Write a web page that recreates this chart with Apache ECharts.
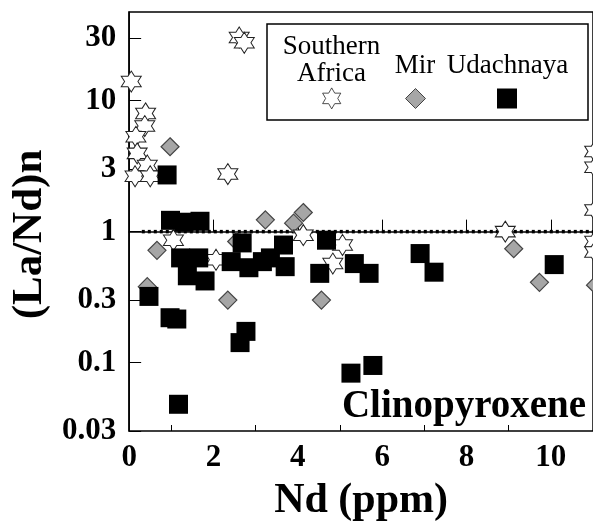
<!DOCTYPE html>
<html>
<head>
<meta charset="utf-8">
<script src="https://cdn.jsdelivr.net/npm/echarts@6/dist/echarts.min.js"></script>
<style>
html,body{margin:0;padding:0;background:#fff;}
#chart{width:593px;height:527px;}
</style>
</head>
<body>
<div id="chart"></div>
<script>
// ---- data (Nd ppm, (La/Nd)n) ----
const southernAfricaNd = [0.05, 0.39, 0.37, 0.16, 0.19, 0.43, 0.14, 0.50, 2.34, 2.61, 2.73, 1.05, 2.06, 4.13, 5.06, 4.83, 8.92, 11.04, 11.04, 11.04, 11.04, 11.04];
const southernAfricaLaNd = [14, 8.0, 6.4, 5.3, 3.96, 3.2, 2.65, 2.65, 2.75, 30.4, 27.7, 0.86, 0.61, 0.94, 0.79, 0.57, 1.0, 4.1, 3.1, 1.46, 0.84, 0.70];

const mirNd = [0.97, 3.23, 3.90, 4.13, 0.66, 0.43, 2.34, 4.56, 2.55, 9.12, 9.73, 11.06];
const mirLaNd = [4.45, 1.23, 1.16, 1.40, 0.72, 0.38, 0.30, 0.30, 0.84, 0.74, 0.41, 0.39];

const udachnayaNd = [0.90, 0.98, 1.30, 1.68, 1.22, 1.65, 1.38, 1.80, 0.47, 0.97, 1.13, 2.77, 2.63, 1.17, 2.42, 2.68, 2.84, 3.16, 3.35, 3.66, 3.70, 4.68, 4.52, 5.34, 5.69, 5.26, 5.78, 6.90, 7.23, 10.08];
const udachnayaLaNd = [2.71, 1.22, 1.18, 1.20, 0.63, 0.63, 0.46, 0.42, 0.32, 0.22, 0.215, 0.173, 0.142, 0.048, 0.59, 0.82, 0.53, 0.59, 0.63, 0.79, 0.54, 0.86, 0.48, 0.57, 0.48, 0.083, 0.095, 0.68, 0.49, 0.56];

const xTickLabels = [0, 2, 4, 6, 8, 10];
const xMinorTicks = [1, 3, 5, 7, 9];
const yTickLabels = [0.03, 0.1, 0.3, 1, 3, 10, 30];
const referenceLine = [[0.3, 1], [11, 1]];
const xMin = 0, xMax = 11;
const yMin = 0.03, yMax = 47.6;

// ---- helpers ----
const lg = v => Math.log10(v);
const pairs = (xs, ys) => xs.map((x, i) => [x, lg(ys[i])]);
const FONT = 'Liberation Serif';
const starPath = 'path://M0,-10L2.887,-5L8.66,-5L5.774,0L8.66,5L2.887,5L0,10L-2.887,5L-8.66,5L-5.774,0L-8.66,-5L-2.887,-5Z';

const chart = echarts.init(document.getElementById('chart'), null, {renderer: 'canvas'});

const gridLeft = 126.7, gridTop = 12, gridW = 470.5, gridH = 419.7;

const option = {
  backgroundColor: '#fff',
  animation: false,
  grid: {left: gridLeft, top: gridTop, width: gridW, height: gridH, show: true, borderColor: '#000', borderWidth: 1.5, backgroundColor: 'transparent'},
  xAxis: [{
    type: 'value', min: xMin, max: xMax,
    name: 'Nd (ppm)', nameLocation: 'middle', nameGap: 49,
    nameTextStyle: {fontFamily: FONT, fontWeight: 'bold', fontSize: 42, color: '#000'},
    axisLine: {show: true, lineStyle: {color: '#000', width: 1.5}},
    axisTick: {show: true, inside: true, length: 12, customValues: xTickLabels, lineStyle: {color: '#000', width: 1}},
    axisLabel: {customValues: xTickLabels, margin: 11, fontFamily: FONT, fontWeight: 'bold', fontSize: 31, color: '#000'},
    splitLine: {show: false}
  }, {
    type: 'value', min: xMin, max: xMax, position: 'bottom',
    axisLine: {show: false},
    axisTick: {show: true, inside: true, length: 6, customValues: xMinorTicks, lineStyle: {color: '#000', width: 1}},
    axisLabel: {show: false},
    splitLine: {show: false}
  }],
  yAxis: {
    type: 'value', min: lg(yMin), max: lg(yMax),
    name: '(La/Nd)n', nameLocation: 'middle', nameGap: 74,
    nameTextStyle: {fontFamily: FONT, fontWeight: 'bold', fontSize: 43, color: '#000', padding: [0, 26, 0, 0]},
    axisLine: {show: true, lineStyle: {color: '#000', width: 1.5}},
    axisTick: {show: true, inside: true, length: 12, customValues: yTickLabels.map(lg), lineStyle: {color: '#000', width: 1}},
    axisLabel: {
      customValues: yTickLabels.map(lg), margin: 13,
      fontFamily: FONT, fontWeight: 'bold', fontSize: 31, color: '#000',
      formatter: v => String(Number(Math.pow(10, v).toPrecision(1)))
    },
    splitLine: {show: false}
  },
  legend: [
    {z: 60, data: ['Southern Africa'], left: 321.7, top: 87.5, padding: 0, itemWidth: 20, itemHeight: 21, formatter: () => '', selectedMode: false, itemStyle: {borderWidth: 0.8, borderColor: '#222'}},
    {z: 60, data: ['Mir'], left: 405, top: 88, padding: 0, itemWidth: 20, itemHeight: 20, formatter: () => '', selectedMode: false, itemStyle: {borderWidth: 1}},
    {z: 60, data: ['Udachnaya'], left: 497, top: 88.5, padding: 0, itemWidth: 20, itemHeight: 20, formatter: () => '', selectedMode: false}
  ],
  graphic: [
    {type: 'rect', z: 50, shape: {x: 267, y: 24, width: 321, height: 96}, style: {fill: '#fff', stroke: '#000', lineWidth: 1.5}},
    {type: 'text', z: 51, style: {text: 'Southern', x: 331.5, y: 47, align: 'center', verticalAlign: 'middle', font: '27px "Liberation Serif"', fill: '#000'}},
    {type: 'text', z: 51, style: {text: 'Africa', x: 331.5, y: 74, align: 'center', verticalAlign: 'middle', font: '27px "Liberation Serif"', fill: '#000'}},
    {type: 'text', z: 51, style: {text: 'Mir', x: 415, y: 66, align: 'center', verticalAlign: 'middle', font: '27px "Liberation Serif"', fill: '#000'}},
    {type: 'text', z: 51, style: {text: 'Udachnaya', x: 507.5, y: 66, align: 'center', verticalAlign: 'middle', font: '27px "Liberation Serif"', fill: '#000'}},
    {type: 'text', z: 51, style: {text: 'Clinopyroxene', x: 464, y: 407, align: 'center', verticalAlign: 'middle', font: 'bold 39px "Liberation Serif"', fill: '#000'}}
  ],
  series: [
    {
      name: 'Southern Africa', type: 'scatter', z: 3, clip: false,
      symbol: starPath, symbolSize: [20, 21],
      itemStyle: {color: '#fff', borderColor: '#222', borderWidth: 1, opacity: 1},
      data: pairs(southernAfricaNd, southernAfricaLaNd)
    },
    {
      name: 'Mir', type: 'scatter', z: 2, clip: false,
      symbol: 'diamond', symbolSize: 18,
      itemStyle: {color: '#a6a6a6', borderColor: '#444', borderWidth: 1.2, opacity: 1},
      data: pairs(mirNd, mirLaNd)
    },
    {
      name: 'Udachnaya', type: 'scatter', z: 4, clip: false,
      symbol: 'rect', symbolSize: 19,
      itemStyle: {color: '#000', opacity: 1},
      data: pairs(udachnayaNd, udachnayaLaNd)
    },
    {
      name: 'ref', type: 'line', z: 1, silent: true, symbol: 'none',
      lineStyle: {color: '#000', width: 3.5, type: [3, 3]},
      data: referenceLine.map(p => [p[0], lg(p[1])])
    }
  ]
};
chart.setOption(option);
</script>
</body>
</html>
